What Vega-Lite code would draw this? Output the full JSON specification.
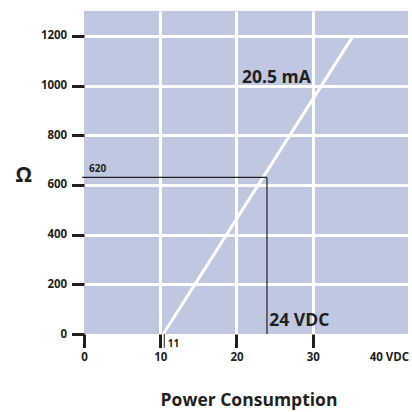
{
  "$schema": "https://vega.github.io/schema/vega-lite/v6.json",
  "width": 324,
  "height": 323,
  "autosize": "none",
  "padding": {"left": 84, "top": 11, "right": 4, "bottom": 78},
  "background": "white",
  "config": {
    "view": {"fill": "#bfc8e0", "stroke": null},
    "font": "Open Sans",
    "axis": {
      "domain": false,
      "labelFont": "Open Sans",
      "labelFontWeight": "bold",
      "labelColor": "#231f20",
      "labelFontSize": 11.5,
      "labelFlush": false,
      "labelOverlap": false,
      "titleFont": "Open Sans",
      "titleFontWeight": "bold",
      "titleColor": "#231f20",
      "tickWidth": 3,
      "gridWidth": 3
    }
  },
  "encoding": {
    "x": {
      "field": "v",
      "type": "quantitative",
      "scale": {"domain": [0, 42.5], "nice": false, "zero": false},
      "axis": {
        "values": [0, 10, 20, 30, 40],
        "format": "d",
        "labelExpr": "datum.value == 40 ? '40 VDC' : datum.label",
        "tickSize": 13.5,
        "labelPadding": 4,
        "tickColor": {"condition": {"test": "datum.value == 40", "value": "transparent"}, "value": "#231f20"},
        "gridColor": {"condition": {"test": "datum.value > 0 && datum.value < 40", "value": "#ffffff"}, "value": "transparent"},
        "title": "Power Consumption",
        "titleFontSize": 17.5,
        "titleX": 164.5,
        "titleY": 71,
        "titleAlign": "center",
        "titleBaseline": "alphabetic",
        "titleAnchor": null
      }
    },
    "y": {
      "field": "r",
      "type": "quantitative",
      "scale": {"domain": [0, 1300], "nice": false, "zero": false},
      "axis": {
        "values": [0, 200, 400, 600, 800, 1000, 1200],
        "format": "d",
        "tickSize": 12.5,
        "labelPadding": 4.8,
        "tickColor": "#231f20",
        "gridColor": {"condition": {"test": "datum.value > 0", "value": "#ffffff"}, "value": "transparent"},
        "title": "Ω",
        "titleAngle": 0,
        "titleFontSize": 21,
        "titleX": -60.7,
        "titleY": 164,
        "titleAlign": "center",
        "titleBaseline": "middle",
        "titleAnchor": null
      }
    }
  },
  "layer": [
    {
      "data": {"values": [{"v": 10.4, "r": 0}, {"v": 35.3, "r": 1200}]},
      "mark": {"type": "line", "color": "#ffffff", "strokeWidth": 3, "strokeCap": "butt"}
    },
    {
      "data": {"values": [{"v": -0.25, "v2": 24, "r": 630}]},
      "mark": {"type": "rule", "color": "#231f20", "strokeWidth": 1.2},
      "encoding": {"x2": {"field": "v2"}}
    },
    {
      "data": {"values": [{"v": 24, "r": 0, "r2": 630}]},
      "mark": {"type": "rule", "color": "#231f20", "strokeWidth": 1.2},
      "encoding": {"y2": {"field": "r2"}}
    },
    {
      "data": {"values": [{"v": 10.53, "r": 0, "r2": -55}]},
      "mark": {"type": "rule", "color": "#231f20", "strokeWidth": 1},
      "encoding": {"y2": {"field": "r2"}}
    },
    {
      "data": {"values": [{"v": 0.66, "r": 652, "label": "620"}, {"v": 10.98, "r": -51, "label": "11"}]},
      "mark": {"type": "text", "align": "left", "baseline": "alphabetic", "font": "Open Sans", "fontWeight": "bold", "fontSize": 10, "color": "#231f20"},
      "encoding": {"text": {"field": "label"}}
    },
    {
      "data": {"values": [{"v": 24.3, "r": 32, "label": "24 VDC"}, {"v": 20.72, "r": 1009, "label": "20.5 mA"}]},
      "mark": {"type": "text", "align": "left", "baseline": "alphabetic", "font": "Open Sans", "fontWeight": "bold", "fontSize": 17.5, "color": "#231f20"},
      "encoding": {"text": {"field": "label"}}
    }
  ]
}
